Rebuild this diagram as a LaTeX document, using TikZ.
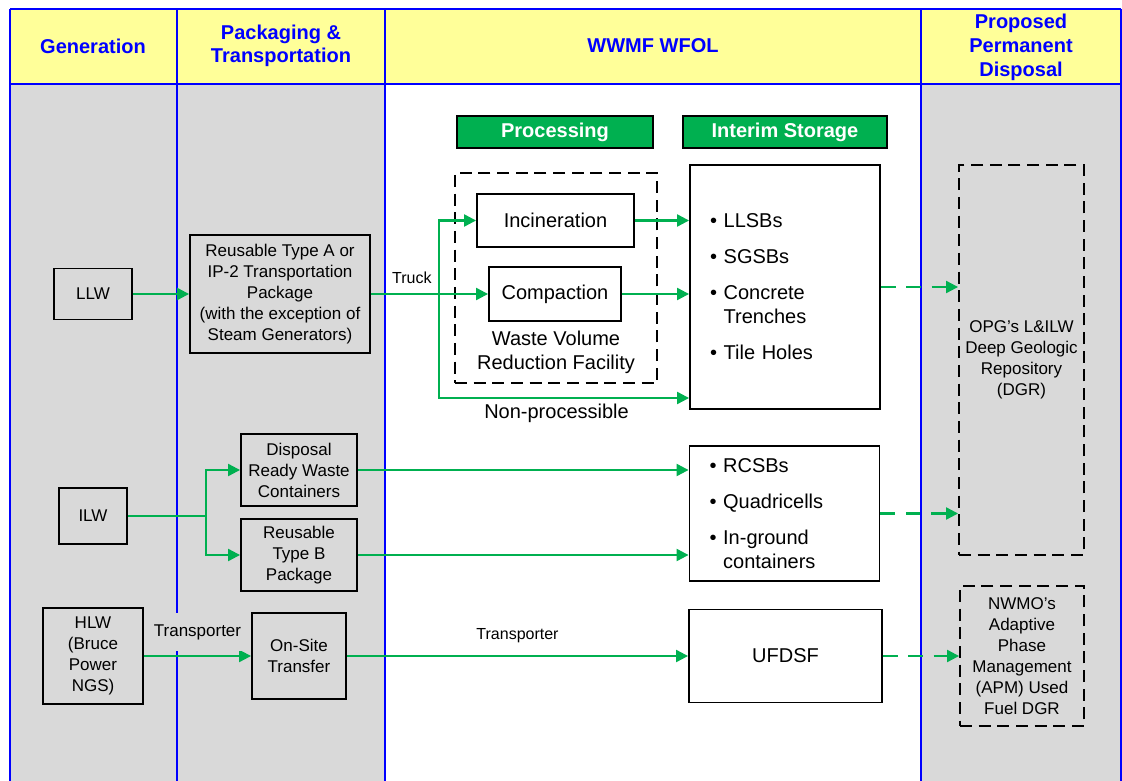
\documentclass[tikz,border=0pt]{standalone}
\usepackage{fontspec}
\setmainfont{Liberation Sans}
\usepackage{xcolor}
\usetikzlibrary{arrows.meta, positioning, calc}
\definecolor{lanetitle}{RGB}{0,0,255}
\definecolor{headfill}{RGB}{255,255,153}
\definecolor{lanegray}{RGB}{217,217,217}
\definecolor{flowgreen}{RGB}{0,176,80}
\tikzset{
    lanes/.style={x=0.75pt, y=-0.75pt},
    lanehead/.style={font=\fontsize{15}{17.5}\selectfont\bfseries, text=lanetitle, align=center},
    laneline/.style={draw=lanetitle, line width=1.4pt},
    box/.style={draw, line width=1.4pt, align=center, inner sep=2pt, font=\fontsize{12.75}{15.75}\selectfont},
    bigbox/.style={box, font=\fontsize{15}{18}\selectfont},
    dashbox/.style={box, dash pattern=on 9pt off 5pt},
    store/.style={draw, line width=1.4pt, align=left, inner xsep=15pt, text width=112.5pt, font=\fontsize{15}{18}\selectfont},
    stage/.style={draw, line width=1.4pt, fill=flowgreen, text=white, font=\fontsize{15}{18}\selectfont\bfseries, minimum height=24pt},
    plainflow/.style={draw=flowgreen, line width=1.6pt},
    flow/.style={plainflow, -{Triangle[length=9pt, width=9pt]}},
    future/.style={flow, dash pattern=on 11pt off 8pt},
    lbl/.style={font=\fontsize{12}{14}\selectfont},
    biglbl/.style={font=\fontsize{15}{18}\selectfont, align=center},
}
\newcommand{\itm}{\textbullet\ }
\newcommand{\itmgap}{\phantom{\textbullet\ }}

\begin{document}
\begin{tikzpicture}[lanes]
    \useasboundingbox (0,0) rectangle (1122,781);

    % swim lanes
    \fill[headfill] (10,9) rectangle (1121,84);
    \fill[lanegray] (10,84) rectangle (385,781);
    \fill[lanegray] (921,84) rectangle (1121,781);
    \draw[laneline] (10,9) -- (1121,9);
    \draw[laneline] (10,84) -- (1121,84);
    \foreach \x in {10,177,385,921,1121}
        \draw[laneline] (\x,9) -- (\x,781);

    \node[lanehead] (hgen) at (93,46) {Generation};
    \node[lanehead] (hpack) at (281,46) {Packaging \&\\Transportation};
    \node[lanehead] (hwwmf) at (653,46) {WWMF WFOL};
    \node[lanehead, font=\fontsize{15}{18}\selectfont\bfseries] (hdisp) at (1021,47) {Proposed\\Permanent\\Disposal};

    \node[stage, minimum width=147pt] (hproc) at (555,132) {Processing};
    \node[stage, minimum width=153pt] (hstore) at (785,132) {Interim Storage};

    % LLW row
    \node[box, minimum width=58.5pt, minimum height=38.25pt] (llw) at (93,294) {LLW};
    \node[box, minimum width=135pt, minimum height=88.5pt] (pkga) at (280,294) {Reusable Type A or\\IP-2 Transportation\\Package\\(with the exception of\\Steam Generators)};
    \node[dashbox, minimum width=151.5pt, minimum height=157.5pt] (wvrf) at (556,278) {};
    \node[biglbl] (wvrflbl) at (556,352) {Waste Volume\\Reduction Facility};
    \node[bigbox, minimum width=117.75pt, minimum height=39.75pt] (incin) at (555.5,220.5) {Incineration};
    \node[bigbox, minimum width=99pt, minimum height=40.5pt] (compact) at (555,294) {Compaction};
    \node[store, minimum height=183pt] (store1) at (785,287) {\itm LLSBs\\[9pt]\itm SGSBs\\[9pt]\itm Concrete\\\itmgap Trenches\\[9pt]\itm Tile Holes};
    \node[dashbox, minimum width=93.75pt, minimum height=292.5pt] (dgr) at (1021.5,360) {OPG’s L\&ILW\\Deep Geologic\\Repository\\(DGR)};

    % ILW row
    \node[box, minimum width=51pt, minimum height=42pt] (ilw) at (93,516) {ILW};
    \node[box, minimum width=87pt, minimum height=54pt] (drwc) at (299,470) {Disposal\\Ready Waste\\Containers};
    \node[box, minimum width=87pt, minimum height=54pt] (pkgb) at (299,555) {Reusable\\Type B\\Package};
    \node[store, minimum height=101.25pt] (store2) at (784.5,513.5) {\itm RCSBs\\[9pt]\itm Quadricells\\[9pt]\itm In-ground\\\itmgap containers};

    % HLW row
    \node[box, minimum width=75pt, minimum height=72pt] (hlw) at (93,656) {HLW\\(Bruce\\Power\\NGS)};
    \node[box, minimum width=70.5pt, minimum height=64.5pt] (onsite) at (299,656) {On-Site\\Transfer};
    \node[bigbox, minimum width=144.75pt, minimum height=69.75pt] (ufdsf) at (785.5,656) {UFDSF};
    \node[dashbox, minimum width=93pt, minimum height=105pt] (nwmo) at (1022,656) {NWMO’s\\Adaptive\\Phase\\Management\\(APM) Used\\Fuel DGR};

    % flows
    \coordinate (truckfork) at (439,294);
    \coordinate (nonproc) at (439,398);
    \coordinate (ilwfork) at (206,516);

    \draw[flow] (llw) -- (pkga);
    \draw[flow] (pkga) -- (compact) node[lbl, pos=0.35, above=3.5pt] (trucklbl) {Truck};
    \draw[flow] (truckfork) |- (incin);
    \draw[flow] (truckfork) -- (nonproc) -- (nonproc -| store1.west)
        node[biglbl, pos=0.47, below] (nplbl) {Non-processible};
    \draw[flow] (incin) -- (incin -| store1.west);
    \draw[flow] (compact) -- (compact -| store1.west);
    \draw[future] (store1) -- (store1 -| dgr.west);

    \draw[plainflow] (ilw) -- (ilwfork);
    \draw[flow] (ilwfork) |- (drwc);
    \draw[flow] (ilwfork) |- (pkgb);
    \draw[flow] (drwc) -- (drwc -| store2.west);
    \draw[flow] (pkgb) -- (pkgb -| store2.west);
    \draw[future] (store2) -- (store2 -| dgr.west);

    \draw[flow] (hlw) -- (onsite)
        node[lbl, font=\fontsize{12.75}{15}\selectfont, midway, above=3pt, fill=lanegray, inner ysep=8.5pt] (tr1lbl) {Transporter};
    \draw[flow] (onsite) -- (ufdsf) node[lbl, midway, above=6pt] (tr2lbl) {Transporter};
    \draw[future] (ufdsf) -- (nwmo);
\end{tikzpicture}
\end{document}
